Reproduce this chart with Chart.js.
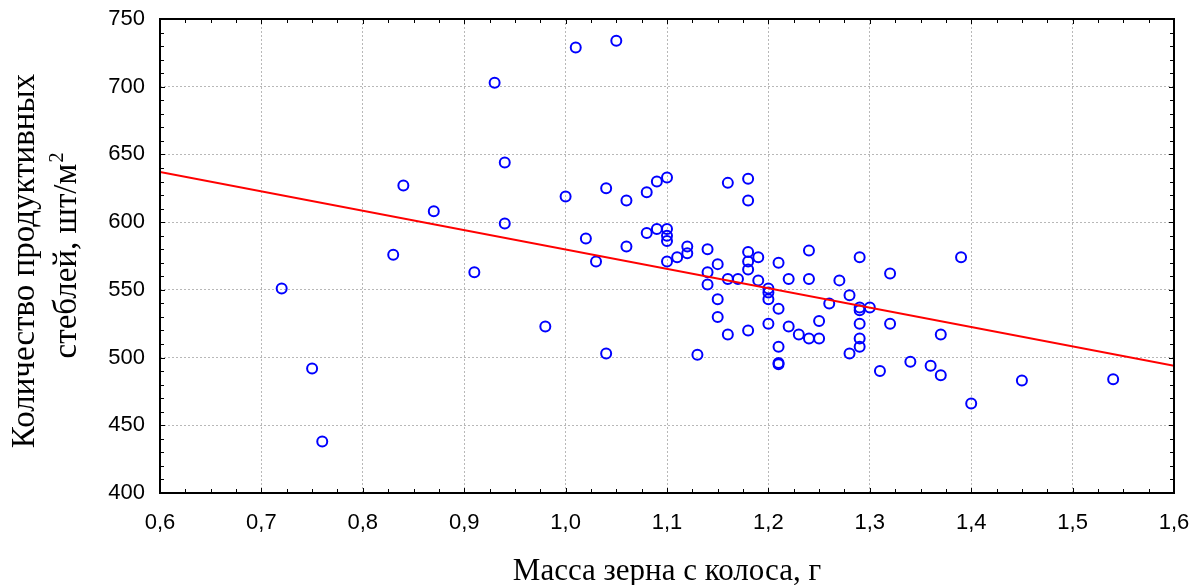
<!DOCTYPE html>
<html>
<head>
<meta charset="utf-8">
<script src="https://cdn.jsdelivr.net/npm/chart.js@4.4.1/dist/chart.umd.min.js"></script>
<style>
  html, body { margin: 0; padding: 0; background: #ffffff; }
  #wrap { width: 1192px; height: 585px; position: relative; }
</style>
</head>
<body>
<div id="wrap"><canvas id="c" width="1192" height="585"></canvas></div>
<script>
// ---- Data ----
const massX = [
  0.72, 0.75, 0.76, 0.83, 0.84, 0.87, 0.91, 0.93, 0.94, 0.94,
  0.98, 1.00, 1.01, 1.02, 1.03, 1.04, 1.04, 1.05, 1.06, 1.06,
  1.08, 1.08, 1.09, 1.09, 1.10, 1.10, 1.10, 1.10, 1.10, 1.11,
  1.12, 1.12, 1.13, 1.14, 1.14, 1.14, 1.15, 1.15, 1.15, 1.16,
  1.16, 1.16, 1.17, 1.18, 1.18, 1.18, 1.18, 1.18, 1.18, 1.19,
  1.19, 1.20, 1.20, 1.20, 1.20, 1.21, 1.21, 1.21, 1.21, 1.21,
  1.22, 1.22, 1.23, 1.24, 1.24, 1.24, 1.25, 1.25, 1.26, 1.27,
  1.28, 1.28, 1.29, 1.29, 1.29, 1.29, 1.29, 1.29, 1.30, 1.31,
  1.32, 1.32, 1.34, 1.36, 1.37, 1.37, 1.39, 1.40, 1.45, 1.54
];
const stemsY = [
  551, 492, 438, 576, 627, 608, 563, 703, 644, 599,
  523, 619, 729, 588, 571, 625, 503, 734, 616, 582,
  622, 592, 630, 595, 633, 595, 590, 586, 571, 574,
  582, 577, 502, 580, 563, 554, 569, 543, 530, 629,
  558, 517, 558, 632, 616, 578, 571, 565, 520, 574,
  557, 551, 548, 543, 525, 570, 536, 508, 496, 495,
  558, 523, 517, 579, 558, 514, 527, 514, 540, 557,
  546, 503, 574, 537, 535, 525, 514, 508, 537, 490,
  562, 525, 497, 494, 517, 487, 574, 466, 483, 484
];
const fitX = [0.6, 1.6];
const fitY = [637, 494];

const xTickValues = [0.6, 0.7, 0.8, 0.9, 1.0, 1.1, 1.2, 1.3, 1.4, 1.5, 1.6];
const yTickValues = [400, 450, 500, 550, 600, 650, 700, 750];

const xTitle = 'Масса зерна с колоса, г';
const yTitleLine1 = 'Количество продуктивных';
const yTitleLine2 = 'стеблей, шт/м';
const yTitleSup = '2';

// ---- Build library data ----
const scatterPts = massX.map((x, i) => ({ x: x, y: stemsY[i] }));
const fitPts = fitX.map((x, i) => ({ x: x, y: fitY[i] }));

const fmt = v => (Math.round(v * 10) / 10).toFixed(1).replace('.', ',');
const SERIF = '"Liberation Serif", "Times New Roman", serif';

// Frame, inward ticks and titles
const framePlugin = {
  id: 'frame',
  afterDraw(chart) {
    const ctx = chart.ctx;
    const xs = chart.scales.x, ys = chart.scales.y;
    const L = xs.left, R = xs.right, T = ys.top, B = ys.bottom;
    ctx.save();
    ctx.strokeStyle = '#000000';
    ctx.lineWidth = 1;
    for (let k = 0; k <= 40; k++) {
      const v = 0.6 + k * 0.025;
      const px = Math.round(xs.getPixelForValue(v)) + 0.5;
      const len = (k % 4 === 0) ? 5 : 4;
      ctx.beginPath();
      ctx.moveTo(px, B); ctx.lineTo(px, B - len);
      ctx.moveTo(px, T); ctx.lineTo(px, T + len);
      ctx.stroke();
    }
    for (let k = 0; k <= 35; k++) {
      const v = 400 + k * 10;
      const py = Math.round(ys.getPixelForValue(v)) + 0.5;
      const len = (k % 5 === 0) ? 5 : 4;
      ctx.beginPath();
      ctx.moveTo(L, py); ctx.lineTo(L + len, py);
      ctx.moveTo(R, py); ctx.lineTo(R - len, py);
      ctx.stroke();
    }
    ctx.lineWidth = 2;
    ctx.strokeRect(L, T, R - L, B - T);

    ctx.fillStyle = '#000000';
    ctx.font = '31px ' + SERIF;
    ctx.textAlign = 'center';
    ctx.textBaseline = 'alphabetic';
    ctx.fillText(xTitle, (L + R) / 2, 580);

    ctx.save();
    ctx.font = '33px ' + SERIF;
    ctx.translate(34, 261);
    ctx.rotate(-Math.PI / 2);
    ctx.textAlign = 'center';
    ctx.fillText(yTitleLine1, 0, 0);
    ctx.restore();

    ctx.save();
    ctx.translate(76, 256);
    ctx.rotate(-Math.PI / 2);
    ctx.textAlign = 'left';
    ctx.font = '33px ' + SERIF;
    const w1 = ctx.measureText(yTitleLine2).width;
    ctx.font = '20px ' + SERIF;
    const w2 = ctx.measureText(yTitleSup).width;
    const start = -(w1 + w2) / 2;
    ctx.font = '33px ' + SERIF;
    ctx.fillText(yTitleLine2, start, 0);
    ctx.font = '20px ' + SERIF;
    ctx.fillText(yTitleSup, start + w1 + 1, -13);
    ctx.restore();

    ctx.restore();
  }
};

new Chart(document.getElementById('c'), {
  type: 'scatter',
  data: {
    datasets: [
      {
        type: 'line',
        data: fitPts,
        borderColor: '#ff0000',
        borderWidth: 2,
        pointRadius: 0,
        fill: false,
        tension: 0
      },
      {
        data: scatterPts,
        pointStyle: 'circle',
        pointRadius: 5,
        pointBorderWidth: 2,
        pointBorderColor: '#0000ff',
        pointBackgroundColor: 'rgba(0,0,0,0)',
        showLine: false
      }
    ]
  },
  options: {
    responsive: false,
    animation: false,
    events: [],
    layout: { autoPadding: false, padding: { left: 0, top: 19, right: 18, bottom: 0 } },
    plugins: { legend: { display: false }, tooltip: { enabled: false }, title: { display: false } },
    scales: {
      x: {
        type: 'linear',
        min: 0.6, max: 1.6,
        afterBuildTicks: s => { s.ticks = xTickValues.map(v => ({ value: v })); },
        afterFit: s => { s.height = 92; s.paddingLeft = 0; s.paddingRight = 0; },
        ticks: {
          callback: v => fmt(v),
          color: '#000000',
          font: { family: '"Liberation Sans", Arial, sans-serif', size: 22 },
          padding: 17,
          maxRotation: 0,
          autoSkip: false
        },
        grid: { color: '#b8b8b8', lineWidth: 1, drawTicks: false },
        border: { display: false, dash: [2, 2] }
      },
      y: {
        type: 'linear',
        min: 400, max: 750,
        afterBuildTicks: s => { s.ticks = yTickValues.map(v => ({ value: v })); },
        afterFit: s => { s.width = 160; s.paddingTop = 0; s.paddingBottom = 0; },
        ticks: {
          callback: v => String(v),
          color: '#000000',
          font: { family: '"Liberation Sans", Arial, sans-serif', size: 22 },
          padding: 15,
          autoSkip: false
        },
        grid: { color: '#b8b8b8', lineWidth: 1, drawTicks: false },
        border: { display: false, dash: [2, 2] }
      }
    }
  },
  plugins: [framePlugin]
});
</script>
</body>
</html>
